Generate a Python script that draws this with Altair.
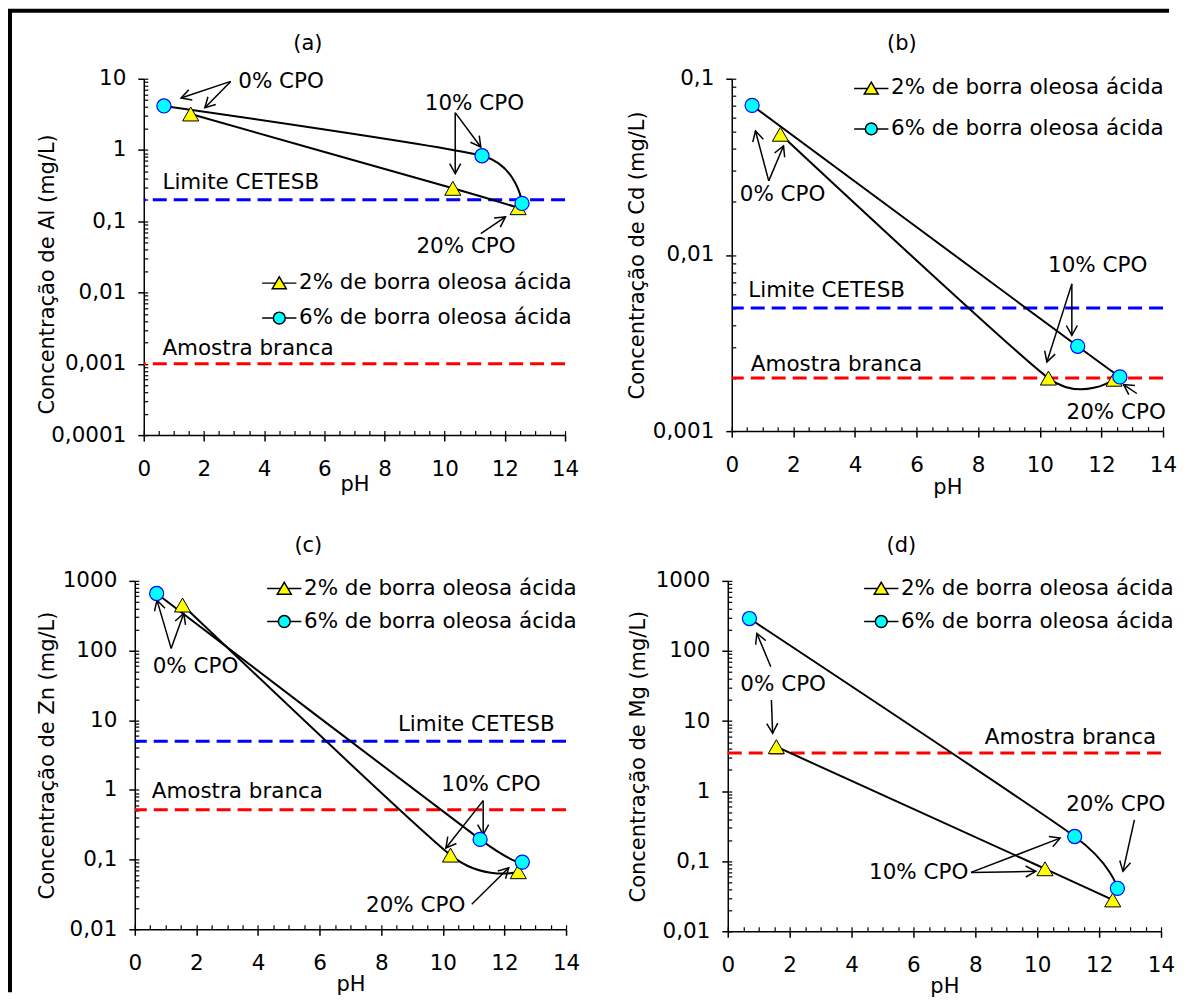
import math
import altair as alt
import pandas as pd

FONT = "DejaVu Sans"
FS = 21.5
FS_TITLE = 21
YELLOW = "#FFFF00"
CYAN = "#00FFFF"
BLUE = "#0000FF"
RED = "#FF0000"

SERIES = ["2% de borra oleosa ácida", "6% de borra oleosa ácida"]
CPO = [0, 10, 20]
X_TICKS = [0, 2, 4, 6, 8, 10, 12, 14]
X_MINOR = [k * 0.5 for k in range(29)]

# ---------------- (a) Al ----------------
A_PH_2 = [1.56, 10.27, 12.44]
A_C_2 = [3.2, 0.29, 0.155]
A_PH_6 = [0.67, 11.24, 12.57]
A_C_6 = [4.15, 0.83, 0.178]
A_LIM = [0.2, 0.001]
A_LIM_COL = [BLUE, RED]
A_TXT = ["0% CPO", "10% CPO", "20% CPO", "Limite CETESB", "Amostra branca"]
A_TXT_PH = [3.14, 10.99, 10.71, 0.62, 0.62]
A_TXT_C = [9.08, 4.46, 0.0442, 0.345, 0.00164]
A_TXT_AL = ["left", "center", "center", "left", "left"]
A_AR_PH1 = [2.89, 2.89, 10.35, 10.35, 11.2]
A_AR_C1 = [9.17, 9.17, 3.34, 3.34, 0.0671]
A_AR_PH2 = [1.24, 2.03, 11.2, 10.35, 12.02]
A_AR_C2 = [5.36, 3.92, 1.103, 0.466, 0.1151]

# ---------------- (b) Cd ----------------
B_PH_2 = [1.58, 10.28, 12.41]
B_C_2 = [0.0484, 0.0020, 0.00197]
B_PH_6 = [0.66, 11.23, 12.6]
B_C_6 = [0.0706, 0.00303, 0.00203]
B_LIM = [0.005, 0.002]
B_LIM_COL = [BLUE, RED]
B_TXT = ["0% CPO", "10% CPO", "20% CPO", "Limite CETESB", "Amostra branca"]
B_TXT_PH = [1.65, 11.88, 12.48, 0.535, 0.62]
B_TXT_C = [0.02188, 0.0087, 0.00126, 0.00623, 0.00236]
B_TXT_AL = ["center", "center", "center", "left", "left"]
B_AR_PH1 = [1.20, 1.20, 11.04, 11.04, 13.15]
B_AR_C1 = [0.02633, 0.02633, 0.00685, 0.00685, 0.001635]
B_AR_PH2 = [0.77, 1.68, 10.23, 11.04, 12.72]
B_AR_C2 = [0.0505, 0.04155, 0.00247, 0.00349, 0.001838]

# ---------------- (c) Zn ----------------
C_PH_2 = [1.55, 10.25, 12.45]
C_C_2 = [450, 0.116, 0.067]
C_PH_6 = [0.71, 11.21, 12.58]
C_C_6 = [658, 0.195, 0.092]
C_LIM = [5, 0.52]
C_LIM_COL = [BLUE, RED]
C_TXT = ["0% CPO", "10% CPO", "20% CPO", "Limite CETESB", "Amostra branca"]
C_TXT_PH = [1.97, 11.56, 9.12, 13.63, 0.55]
C_TXT_C = [57.4, 1.163, 0.02156, 8.6, 0.923]
C_TXT_AL = ["center", "center", "center", "right", "left"]
C_AR_PH1 = [1.18, 1.18, 11.31, 11.31, 10.94]
C_AR_C1 = [107.4, 107.4, 0.702, 0.702, 0.0228]
C_AR_PH2 = [0.72, 1.59, 10.1, 11.31, 12.14]
C_AR_C2 = [529, 340, 0.147, 0.229, 0.0762]

# ---------------- (d) Mg ----------------
D_PH_2 = [1.57, 10.25, 12.44]
D_C_2 = [4.3, 0.078, 0.028]
D_PH_6 = [0.70, 11.21, 12.59]
D_C_6 = [290, 0.225, 0.041]
D_LIM = [3.5]
D_LIM_COL = [RED]
D_TXT = ["0% CPO", "10% CPO", "20% CPO", "Amostra branca"]
D_TXT_PH = [1.79, 6.17, 12.54, 13.84]
D_TXT_C = [32.6, 0.0677, 0.636, 5.67]
D_TXT_AL = ["center", "center", "center", "right"]
D_AR_PH1 = [1.39, 1.41, 7.86, 7.86, 13.14]
D_AR_C1 = [59.6, 19.9, 0.0692, 0.0692, 0.389]
D_AR_PH2 = [0.94, 1.45, 10.74, 9.95, 12.77]
D_AR_C2 = [177.6, 6.68, 0.2133, 0.0716, 0.0716]

ARROW_HEAD = "M-0.55,1L0,0L0.55,1"
TRI_LEG = "M-2.45,0L-0.53,0M0.53,0L2.45,0M0,-0.9L1,0.8L-1,0.8Z"
CIRC_LEG = ("M-2.45,0L-0.85,0M0.85,0L2.45,0M-0.85,0A0.85,0.85,0,1,1,0.85,0"
            "A0.85,0.85,0,1,1,-0.85,0Z")


def decade_ticks(lo, hi):
    e0, e1 = round(math.log10(lo)), round(math.log10(hi))
    return [float(f"1e{e}") for e in range(e1, e0 - 1, -1)]


def minor_ticks(lo, hi):
    e0, e1 = round(math.log10(lo)), round(math.log10(hi))
    vals = []
    for e in range(e0, e1):
        for m in range(1, 10):
            vals.append(float(f"{m}e{e}"))
    vals.append(float(f"1e{e1}"))
    return vals


PANELS = [
    dict(title="(a)", ylabel="Concentração de Al (mg/L)", ydom=(1e-4, 10), w=422, h=357,
         ph2=A_PH_2, c2=A_C_2, ph6=A_PH_6, c6=A_C_6, lim=A_LIM, limcol=A_LIM_COL,
         txt=A_TXT, tph=A_TXT_PH, tc=A_TXT_C, tal=A_TXT_AL,
         ar=(A_AR_PH1, A_AR_C1, A_AR_PH2, A_AR_C2),
         ytx=-86, yty=357 / 2 + 17, xty=38, legx=118, legy=194, legrow=12),
    dict(title="(b)", ylabel="Concentração de Cd (mg/L)", ydom=(1e-3, 0.1), w=432, h=353,
         ph2=B_PH_2, c2=B_C_2, ph6=B_PH_6, c6=B_C_6, lim=B_LIM, limcol=B_LIM_COL,
         txt=B_TXT, tph=B_TXT_PH, tc=B_TXT_C, tal=B_TXT_AL,
         ar=(B_AR_PH1, B_AR_C1, B_AR_PH2, B_AR_C2),
         ytx=-84, yty=353 / 2, xty=45, legx=122, legy=-1, legrow=17.5),
    dict(title="(c)", ylabel="Concentração de Zn (mg/L)", ydom=(1e-2, 1000), w=432, h=349,
         ph2=C_PH_2, c2=C_C_2, ph6=C_PH_6, c6=C_C_6, lim=C_LIM, limcol=C_LIM_COL,
         txt=C_TXT, tph=C_TXT_PH, tc=C_TXT_C, tal=C_TXT_AL,
         ar=(C_AR_PH1, C_AR_C1, C_AR_PH2, C_AR_C2),
         ytx=-77, yty=349 / 2, xty=44, legx=132, legy=-3, legrow=10),
    dict(title="(d)", ylabel="Concentração de Mg (mg/L)", ydom=(1e-2, 1000), w=434, h=351,
         ph2=D_PH_2, c2=D_C_2, ph6=D_PH_6, c6=D_C_6, lim=D_LIM, limcol=D_LIM_COL,
         txt=D_TXT, tph=D_TXT_PH, tc=D_TXT_C, tal=D_TXT_AL,
         ar=(D_AR_PH1, D_AR_C1, D_AR_PH2, D_AR_C2),
         ytx=-79, yty=351 / 2, xty=44, legx=136, legy=-3, legrow=10),
]

AXIS_STYLE = dict(domainColor="black", domainWidth=1.5, tickColor="black", tickWidth=1.5,
                  grid=False, labelFont=FONT, labelFontSize=FS, labelColor="black",
                  titleFont=FONT, titleFontSize=FS_TITLE, titleFontWeight="normal",
                  titleColor="black")


def panel(p):
    W, H = p["w"], p["h"]
    lo, hi = p["ydom"]
    L0, L1 = math.log10(lo), math.log10(hi)
    xs = alt.Scale(domain=[0, 14], nice=False, zero=False)
    ys = alt.Scale(type="log", domain=[lo, hi], nice=False)

    def X(f, axis=None):
        return alt.X(f"{f}:Q", scale=xs, axis=axis)

    def Y(f, axis=None):
        return alt.Y(f"{f}:Q", scale=ys, axis=axis)

    x_axis = alt.Axis(values=X_TICKS, format="d", title="pH", orient="bottom", tickSize=6,
                      labelPadding=17, labelFlush=False, labelOverlap=False,
                      titleX=W / 2, titleY=p["xty"], **AXIS_STYLE)
    y_axis = alt.Axis(values=decade_ticks(lo, hi), title=p["ylabel"], orient="left", tickSize=6,
                      labelPadding=12, labelFlush=False, labelOverlap=False,
                      labelExpr="replace(toString(datum.value), '.', ',')",
                      titleX=p["ytx"], titleY=p["yty"], **AXIS_STYLE)
    x_minor = alt.Axis(values=X_MINOR, orient="bottom", offset=-4.5, tickSize=4.5, labels=False,
                       domain=False, title=None, grid=False, tickColor="black", tickWidth=1.2)
    y_minor = alt.Axis(values=minor_ticks(lo, hi), orient="left", offset=-4, tickSize=4,
                       labels=False, domain=False, title=None, grid=False,
                       tickColor="black", tickWidth=1.2)

    pts = pd.DataFrame({
        "series": [SERIES[0]] * 3 + [SERIES[1]] * 3,
        "cpo": CPO + CPO,
        "ph": list(p["ph2"]) + list(p["ph6"]),
        "c": list(p["c2"]) + list(p["c6"]),
    })
    lims = pd.DataFrame({"v": p["lim"], "col": p["limcol"]})
    txt = pd.DataFrame({"t": p["txt"], "ph": p["tph"], "c": p["tc"], "al": p["tal"]})

    ph1, c1, ph2, c2 = p["ar"]

    def px(v):
        return v / 14 * W

    def py(v):
        return (L1 - math.log10(v)) / (L1 - L0) * H

    angs = []
    for a, b, c, d in zip(ph1, c1, ph2, c2):
        dx = px(c) - px(a)
        dy = py(d) - py(b)
        angs.append(math.degrees(math.atan2(dx, -dy)) % 360)
    arr = pd.DataFrame({"x1": ph1, "y1": c1, "x2": ph2, "y2": c2, "ang": angs})

    base_pts = alt.Chart(pts)

    rules = alt.Chart(lims).mark_rule(strokeWidth=3, strokeDash=[14, 7]).encode(
        y=Y("v"), color=alt.Color("col:N", scale=None))

    lines = base_pts.mark_line(interpolate="cardinal", tension=0.4, color="black",
                               strokeWidth=2).encode(
        x=X("ph", x_axis), y=Y("c", y_axis), detail="series:N", order="cpo:Q")

    arrows = alt.Chart(arr).mark_rule(color="black", strokeWidth=1.5).encode(
        x=X("x1"), y=Y("y1"), x2="x2:Q", y2="y2:Q")
    heads = alt.Chart(arr).mark_point(shape=ARROW_HEAD, filled=False, stroke="black",
                                      strokeWidth=1.5, size=400, opacity=1).encode(
        x=X("x2"), y=Y("y2"), angle=alt.Angle("ang:Q", scale=None))

    tri = base_pts.transform_filter(alt.datum.series == SERIES[0]).mark_point(
        shape="triangle-up", filled=True, fill=YELLOW, stroke="black", strokeWidth=1,
        size=260, opacity=1).encode(x=X("ph"), y=Y("c"))
    circ = base_pts.transform_filter(alt.datum.series == SERIES[1]).mark_point(
        shape="circle", filled=True, fill=CYAN, stroke=BLUE, strokeWidth=1.2,
        size=200, opacity=1).encode(x=X("ph"), y=Y("c"))

    texts = []
    for al in ["left", "center", "right"]:
        texts.append(alt.Chart(txt).transform_filter(alt.datum.al == al).mark_text(
            align=al, baseline="middle", font=FONT, fontSize=FS, color="black").encode(
            x=X("ph"), y=Y("c"), text="t:N"))

    leg = alt.Legend(title=None, orient="none", legendX=p["legx"], legendY=p["legy"],
                     padding=0, symbolSize=196, symbolStrokeWidth=1.5,
                     symbolStrokeColor="black", symbolOffset=7, labelOffset=9,
                     labelFont=FONT, labelFontSize=FS, labelColor="black", labelLimit=500,
                     rowPadding=p["legrow"], symbolOpacity=1)
    legend_layer = base_pts.transform_filter("false").mark_point(
        filled=True, stroke="black", strokeWidth=1.5, opacity=1).encode(
        x=X("ph"), y=Y("c"),
        shape=alt.Shape("series:N", scale=alt.Scale(domain=SERIES, range=[TRI_LEG, CIRC_LEG]),
                        legend=leg),
        fill=alt.Fill("series:N", scale=alt.Scale(domain=SERIES, range=[YELLOW, CYAN]),
                      legend=leg),
        stroke=alt.Stroke("series:N", scale=alt.Scale(domain=SERIES, range=["black", "black"]),
                          legend=leg))

    minor = base_pts.mark_point(opacity=0).encode(x=X("ph", x_minor), y=Y("c", y_minor))

    ch = alt.layer(minor, rules, lines, arrows, heads, tri, circ, *texts, legend_layer)
    ch = ch.resolve_axis(x="independent", y="independent").properties(
        width=W, height=H,
        title=alt.TitleParams(text=p["title"], font=FONT, fontSize=FS_TITLE, fontWeight="normal",
                              color="black", frame="bounds", anchor="middle", offset=14))
    return ch


def indep(c):
    return c.resolve_scale(x="independent", y="independent", shape="independent",
                           fill="independent", stroke="independent").resolve_legend(
        shape="independent", fill="independent", stroke="independent")


frame_df = pd.DataFrame({"k": [0]})


def spacer():
    return alt.Chart(frame_df).mark_rect(opacity=0).encode(
        x=alt.value(0), x2=alt.value(1), y=alt.value(0), y2=alt.value(1)).properties(
        width=1, height=1)


pa, pb, pc, pd_ = [panel(p) for p in PANELS]
row1 = indep(alt.hconcat(spacer(), indep(alt.hconcat(pa, pb, spacing=48)), spacing=0))
row2 = indep(alt.hconcat(spacer(), indep(alt.hconcat(pc, pd_, spacing=48)), spacing=0))
grid = indep(alt.vconcat(row1, row2, spacing=38))

LH = 985
TW = 1135
left_frame = alt.Chart(frame_df).mark_rect(color="black").encode(
    x=alt.value(0), x2=alt.value(4), y=alt.value(0), y2=alt.value(LH)).properties(
    width=4, height=LH)
top_frame = alt.Chart(frame_df).mark_rect(color="black").encode(
    x=alt.value(-24), x2=alt.value(TW), y=alt.value(0), y2=alt.value(4)).properties(
    width=TW, height=4)

right = indep(alt.vconcat(top_frame, grid, spacing=20))
chart = indep(alt.hconcat(left_frame, right, spacing=0)).properties(
    padding=0, background="white").configure_view(stroke=None)

chart.save("out.html", embed_options={"renderer": "svg", "actions": False})
